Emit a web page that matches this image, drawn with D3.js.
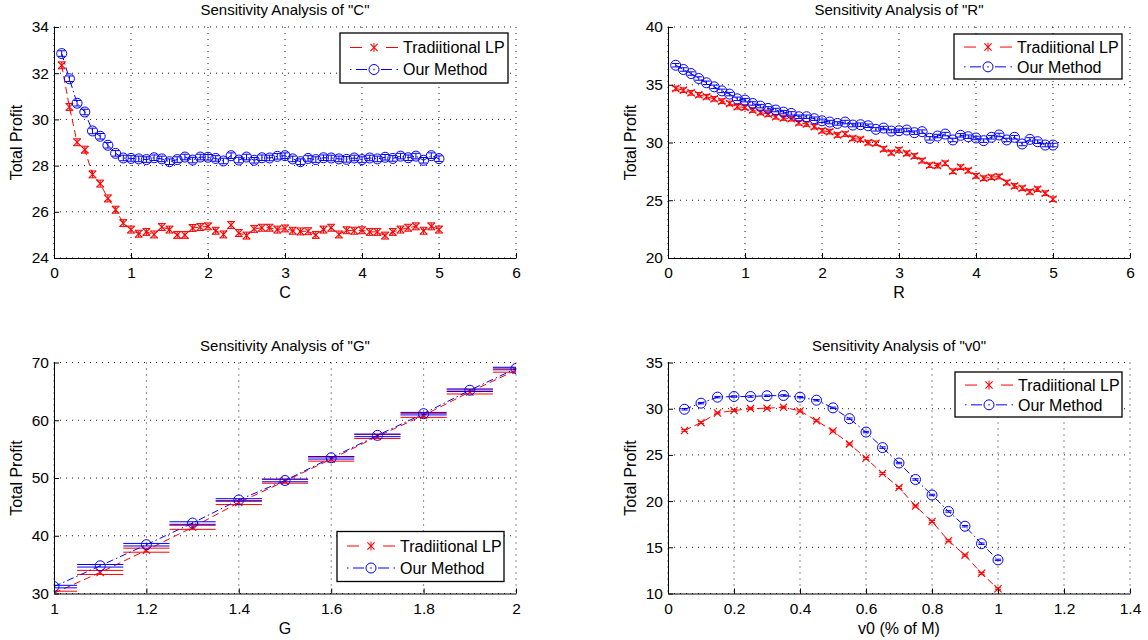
<!DOCTYPE html>
<html>
<head>
<meta charset="utf-8">
<script src="https://cdn.jsdelivr.net/npm/d3@7"></script>
<style>
  body { margin: 0; background: #fff; }
  svg { display: block; font-family: "Liberation Sans", Arial, Helvetica, sans-serif; }
</style>
</head>
<body>
<script>
// ---- data ----

const seriesNames = ['Tradiitional LP', 'Our Method'];

// panel "C"
const cLevels = [0.1, 0.2, 0.3, 0.4, 0.5, 0.6, 0.7, 0.8, 0.9, 1.0,
  1.1, 1.2, 1.3, 1.4, 1.5, 1.6, 1.7, 1.8, 1.9, 2.0,
  2.1, 2.2, 2.3, 2.4, 2.5, 2.6, 2.7, 2.8, 2.9, 3.0,
  3.1, 3.2, 3.3, 3.4, 3.5, 3.6, 3.7, 3.8, 3.9, 4.0,
  4.1, 4.2, 4.3, 4.4, 4.5, 4.6, 4.7, 4.8, 4.9, 5.0];
const cTradLP = [32.34, 30.54, 29.01, 28.69, 27.62, 27.22, 26.58, 26.09, 25.51, 25.23,
  25.05, 25.13, 25.02, 25.34, 25.23, 25.00, 25.00, 25.30, 25.34, 25.37,
  25.18, 25.02, 25.43, 25.08, 24.97, 25.26, 25.31, 25.31, 25.23, 25.28,
  25.18, 25.15, 25.16, 25.00, 25.23, 25.31, 25.02, 25.20, 25.18, 25.20,
  25.13, 25.13, 24.97, 25.13, 25.23, 25.31, 25.37, 25.18, 25.37, 25.23];
const cOurs = [32.85, 31.76, 30.70, 30.32, 29.50, 29.27, 28.88, 28.53, 28.33, 28.31,
  28.29, 28.26, 28.34, 28.29, 28.17, 28.26, 28.37, 28.24, 28.37, 28.36,
  28.31, 28.20, 28.43, 28.24, 28.37, 28.23, 28.34, 28.33, 28.40, 28.43,
  28.29, 28.17, 28.31, 28.26, 28.34, 28.33, 28.29, 28.27, 28.33, 28.26,
  28.33, 28.29, 28.36, 28.31, 28.41, 28.34, 28.41, 28.23, 28.43, 28.30];
const cErr = [0.15, 0.12];

// panel "R"
const rLevels = [0.1, 0.2, 0.3, 0.4, 0.5, 0.6, 0.7, 0.8, 0.9, 1.0,
  1.1, 1.2, 1.3, 1.4, 1.5, 1.6, 1.7, 1.8, 1.9, 2.0,
  2.1, 2.2, 2.3, 2.4, 2.5, 2.6, 2.7, 2.8, 2.9, 3.0,
  3.1, 3.2, 3.3, 3.4, 3.5, 3.6, 3.7, 3.8, 3.9, 4.0,
  4.1, 4.2, 4.3, 4.4, 4.5, 4.6, 4.7, 4.8, 4.9, 5.0];
const rTradLP = [34.68, 34.53, 34.30, 34.13, 33.96, 33.78, 33.58, 33.38, 33.09, 33.04,
  32.81, 32.60, 32.46, 32.23, 32.12, 32.06, 31.71, 31.60, 31.37, 31.02,
  30.94, 30.65, 30.73, 30.36, 30.27, 29.99, 29.93, 29.44, 29.12, 29.35,
  29.06, 28.83, 28.43, 28.03, 28.00, 28.20, 27.51, 27.86, 27.57, 27.11,
  26.91, 26.99, 27.05, 26.53, 26.24, 26.04, 25.73, 25.96, 25.61, 25.09];
const rOurs = [36.69, 36.32, 35.97, 35.54, 35.17, 34.82, 34.47, 34.19, 33.78, 33.67,
  33.38, 33.15, 32.95, 32.81, 32.63, 32.52, 32.23, 32.23, 32.06, 31.88,
  31.77, 31.65, 31.77, 31.51, 31.54, 31.45, 31.14, 31.25, 30.99, 31.02,
  31.08, 30.85, 30.94, 30.36, 30.56, 30.73, 30.22, 30.62, 30.50, 30.39,
  30.16, 30.45, 30.65, 30.22, 30.45, 29.87, 30.27, 30.07, 29.78, 29.78];
const rErr = [0.2, 0.15];

// panel "G"
const gLevels = [1.0, 1.1, 1.2, 1.3, 1.4, 1.5, 1.6, 1.7, 1.8, 1.9, 2.0];
const gTradLP = [30.05, 33.65, 37.5, 41.46, 45.75, 49.45, 53.27, 57.2, 60.85, 64.9, 68.67];
const gOurs = [31.2, 34.8, 38.45, 42.2, 46.2, 49.57, 53.5, 57.38, 61.14, 65.2, 68.96];
const gErr = [0.35, 0.22];

// panel "v0"
const vLevels = [0.05, 0.10, 0.15, 0.20, 0.25, 0.30, 0.35, 0.40, 0.45, 0.50,
  0.55, 0.60, 0.65, 0.70, 0.75, 0.80, 0.85, 0.90, 0.95, 1.00];
const vTradLP = [27.65, 28.49, 29.54, 29.80, 30.01, 30.05, 30.16, 29.76, 28.70, 27.58,
  26.19, 24.63, 22.99, 21.46, 19.46, 17.79, 15.71, 14.15, 12.18, 10.51];
const vOurs = [29.94, 30.60, 31.25, 31.32, 31.32, 31.40, 31.43, 31.25, 30.92, 30.09,
  28.92, 27.47, 25.79, 24.12, 22.34, 20.66, 18.88, 17.28, 15.39, 13.64];
const vErr = [0.1, 0.08];

// axis ticks
const cXTicks = [0, 1, 2, 3, 4, 5, 6];
const cYTicks = [24, 26, 28, 30, 32, 34];
const rXTicks = [0, 1, 2, 3, 4, 5, 6];
const rYTicks = [20, 25, 30, 35, 40];
const gXTicks = [1, 1.2, 1.4, 1.6, 1.8, 2];
const gYTicks = [30, 40, 50, 60, 70];
const vXTicks = [0, 0.2, 0.4, 0.6, 0.8, 1, 1.2, 1.4];
const vYTicks = [10, 15, 20, 25, 30, 35];

// ---- layout ----

const WIDTH = 1148;
const HEIGHT = 640;
const AX_W = 462;
const AX_H = 231;
const COLORS = ['#ff0000', '#0000ff'];
const DASHES = ['7,4', '7,3,1.5,3'];

const panels = [
  { title: 'Sensitivity Analysis of "C"', xLabel: 'C', left: 54, top: 27,
    xs: cLevels, ys: [cTradLP, cOurs], err: cErr, tee: 0.049,
    xTicks: cXTicks, yTicks: cYTicks, legend: [286, 6, 168, 50] },
  { title: 'Sensitivity Analysis of "R"', xLabel: 'R', left: 668, top: 27,
    xs: rLevels, ys: [rTradLP, rOurs], err: rErr, tee: 0.049,
    xTicks: rXTicks, yTicks: rYTicks, legend: [286, 7, 168, 45] },
  { title: 'Sensitivity Analysis of "G"', xLabel: 'G', left: 54, top: 362.5,
    xs: gLevels, ys: [gTradLP, gOurs], err: gErr, tee: 0.05,
    xTicks: gXTicks, yTicks: gYTicks, legend: [283, 169, 167, 50] },
  { title: 'Sensitivity Analysis of "v0"', xLabel: 'v0 (% of M)', left: 668, top: 362.5,
    xs: vLevels, ys: [vTradLP, vOurs], err: vErr, tee: 0.0095,
    xTicks: vXTicks, yTicks: vYTicks, legend: [287, 9.5, 167, 45] }
];

const fmt = d => String(+d.toFixed(2));

/*
 * Draws a marker: 'x' for the first series, a circle for the second.
 */
const drawMarker = (g, i, cx, cy) => {
  if (i === 0) {
    const s = 3.6;
    g.append('path')
      .attr('d', `M${cx - s},${cy - s}L${cx + s},${cy + s}M${cx - s},${cy + s}L${cx + s},${cy - s}`)
      .attr('stroke', COLORS[i])
      .attr('stroke-width', 1.1)
      .attr('fill', 'none');
  } else {
    g.append('circle')
      .attr('cx', cx)
      .attr('cy', cy)
      .attr('r', 5)
      .attr('stroke', COLORS[i])
      .attr('stroke-width', 1)
      .attr('fill', 'none');
  }
};

/*
 * Legend sample of an errorbar series: broken line, marker, tiny error bar.
 */
const drawLegendSample = (lg, i, ry) => {
  const segs = i === 0
    ? [[10, 22], [46, 58]]
    : [[10, 11.5], [16, 27], [41, 52], [56.5, 58]];
  segs.forEach(([a, b]) => {
    lg.append('line')
        .attr('x1', a)
        .attr('x2', b)
        .attr('y1', ry)
        .attr('y2', ry)
        .attr('stroke', COLORS[i])
        .attr('stroke-width', 1);
  });
  lg.append('line')
      .attr('x1', 34)
      .attr('x2', 34)
      .attr('y1', ry - (i === 0 ? 4.5 : 0.8))
      .attr('y2', ry + (i === 0 ? 4.5 : 0.8))
      .attr('stroke', COLORS[i])
      .attr('stroke-width', 1);
  drawMarker(lg, i, 34, ry);
};

/*
 * Draws one subplot: grid, error bars, lines, axes, labels and legend.
 */
const drawPanel = (svg, p, idx) => {
  const xDomain = d3.extent(p.xTicks);
  const yDomain = d3.extent(p.yTicks);
  const x = d3.scaleLinear().domain(xDomain).range([0, AX_W]);
  const y = d3.scaleLinear().domain(yDomain).range([AX_H, 0]);

  const g = svg.append('g')
      .attr('transform', `translate(${p.left},${p.top})`);

  const clipId = `clip-${idx}`;
  g.append('clipPath')
      .attr('id', clipId)
    .append('rect')
      .attr('x', 0)
      .attr('y', 0)
      .attr('width', AX_W)
      .attr('height', AX_H);

  // dotted grid (also along the top and right limits, box is off)
  const grid = g.append('g')
      .attr('stroke', '#000')
      .attr('stroke-width', 0.9)
      .attr('stroke-dasharray', '1,5');
  grid.selectAll('.gx')
    .data(p.xTicks)
    .enter()
    .append('line')
      .attr('x1', d => x(d))
      .attr('x2', d => x(d))
      .attr('y1', 0)
      .attr('y2', AX_H);
  grid.selectAll('.gy')
    .data(p.yTicks)
    .enter()
    .append('line')
      .attr('x1', 0)
      .attr('x2', AX_W)
      .attr('y1', d => y(d))
      .attr('y2', d => y(d));

  // series
  const plot = g.append('g')
      .attr('clip-path', `url(#${clipId})`);

  p.ys.forEach((vals, i) => {
    const pts = p.xs.map((xv, k) => [xv, vals[k]]);
    const e = p.err[i];
    const sg = plot.append('g');

    // error bars with caps
    const eb = sg.append('g')
        .attr('stroke', COLORS[i])
        .attr('stroke-width', 1)
        .attr('fill', 'none');
    pts.forEach(([xv, yv]) => {
      const cx = x(xv);
      const x0 = x(xv - p.tee);
      const x1 = x(xv + p.tee);
      eb.append('path')
        .attr('d', `M${cx},${y(yv - e)}L${cx},${y(yv + e)}` +
          `M${x0},${y(yv - e)}L${x1},${y(yv - e)}` +
          `M${x0},${y(yv + e)}L${x1},${y(yv + e)}`);
    });

    // data line
    sg.append('path')
        .datum(pts)
        .attr('d', d3.line().x(d => x(d[0])).y(d => y(d[1])))
        .attr('fill', 'none')
        .attr('stroke', COLORS[i])
        .attr('stroke-width', 1)
        .attr('stroke-dasharray', DASHES[i]);

    // markers
    pts.forEach(([xv, yv]) => drawMarker(sg, i, x(xv), y(yv)));
  });

  // axes (left and bottom only, ticks pointing inward)
  const xAxis = d3.axisBottom(x)
      .tickValues(p.xTicks)
      .tickFormat(fmt)
      .tickSizeInner(-5)
      .tickSizeOuter(0)
      .tickPadding(9);
  const gx = g.append('g')
      .attr('transform', `translate(0,${AX_H})`)
      .call(xAxis);

  const yAxis = d3.axisLeft(y)
      .tickValues(p.yTicks)
      .tickFormat(fmt)
      .tickSizeInner(-5)
      .tickSizeOuter(0)
      .tickPadding(5);
  const gy = g.append('g')
      .call(yAxis);

  [gx, gy].forEach(a => {
    a.attr('font-family', null)
     .attr('font-size', 15.5);
    a.selectAll('path, line').attr('stroke', '#000');
    a.selectAll('text').attr('fill', '#000');
  });

  // title and axis labels
  g.append('text')
      .attr('x', AX_W / 2)
      .attr('y', -12)
      .attr('text-anchor', 'middle')
      .attr('font-size', 15)
      .text(p.title);

  g.append('text')
      .attr('x', AX_W / 2)
      .attr('y', AX_H + 40)
      .attr('text-anchor', 'middle')
      .attr('font-size', 16)
      .text(p.xLabel);

  g.append('text')
      .attr('transform', `translate(-38,${AX_H / 2}) rotate(-90)`)
      .attr('dy', '0.35em')
      .attr('text-anchor', 'middle')
      .attr('font-size', 16)
      .text('Total Profit');

  // legend
  const [lx, ly, lw, lh] = p.legend;
  const lg = g.append('g')
      .attr('transform', `translate(${lx},${ly})`);
  lg.append('rect')
      .attr('width', lw)
      .attr('height', lh)
      .attr('fill', '#fff')
      .attr('stroke', '#000')
      .attr('stroke-width', 1.3);

  seriesNames.forEach((name, i) => {
    const ry = lh * (i === 0 ? 0.29 : 0.73);
    drawLegendSample(lg, i, ry);
    lg.append('text')
        .attr('x', 63)
        .attr('y', ry)
        .attr('dy', '0.36em')
        .attr('font-size', 16)
        .text(name);
  });
};

const svg = d3.select('body')
  .append('svg')
    .attr('width', WIDTH)
    .attr('height', HEIGHT);

panels.forEach((p, i) => drawPanel(svg, p, i));
</script>
</body>
</html>
